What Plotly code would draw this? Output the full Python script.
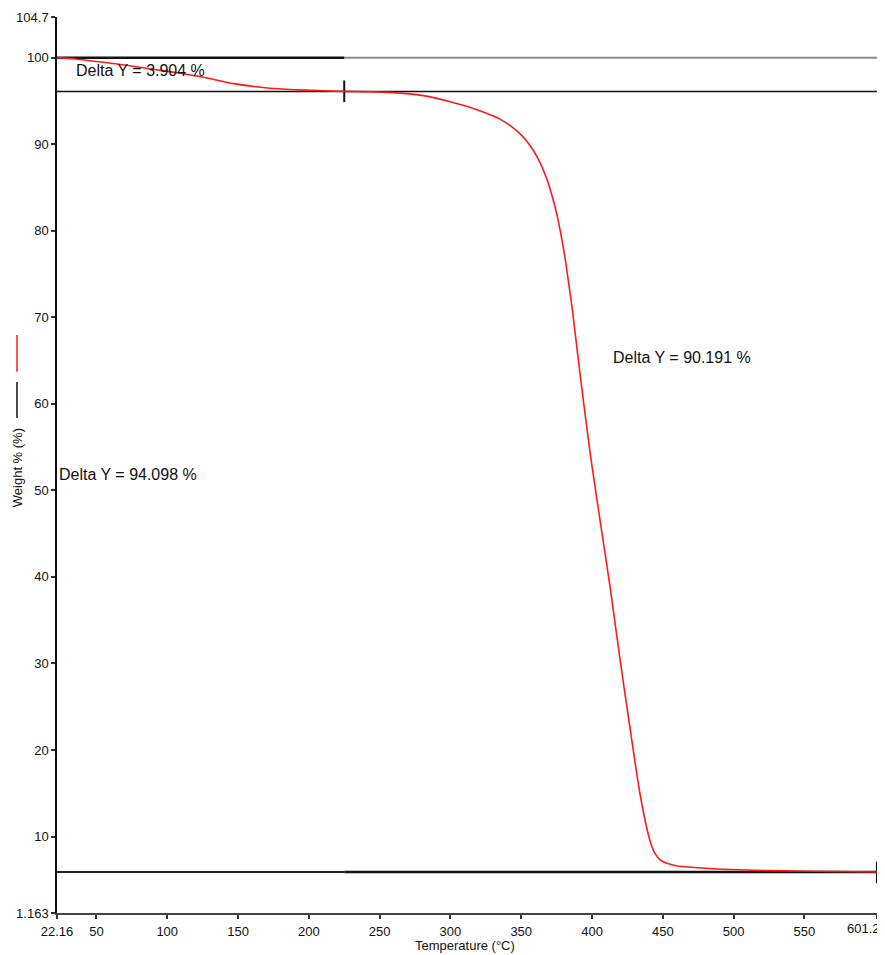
import plotly.graph_objects as go

# ---- data ----
temperature = [22.16, 35, 53.5, 70, 88.7, 105, 123.9, 147, 171, 190, 206, 225, 245, 265, 285,
               300, 312, 325, 335, 345, 351, 356, 362, 368, 372, 375, 378, 381, 386, 391.5, 398.6, 405.6,
               412.7, 420, 426.7, 433.8, 440.8, 444, 448, 453, 460, 475, 492, 525, 560, 601.2]
weight = [100, 99.85, 99.5, 99.15, 98.7, 98.3, 97.8, 97.0, 96.5, 96.3, 96.2, 96.1, 96.05, 95.9, 95.5,
          94.9, 94.35, 93.6, 92.9, 91.8, 90.9, 89.9, 88.3, 86.0, 83.9, 82.0, 79.6, 76.8, 71.0, 63.5, 54.4, 46.6,
          38.9, 30.2, 22.7, 15.0, 9.6, 8.2, 7.3, 6.9, 6.6, 6.4, 6.22, 6.06, 5.98, 5.902]

t_start, t_step, t_end = 22.16, 225, 601.2
w_start = 100.0
delta_1 = 3.904
delta_2 = 90.191
delta_total = 94.098
w_step = w_start - delta_1
w_end = w_start - delta_total

x_tickvals = [22.16, 50, 100, 150, 200, 250, 300, 350, 400, 450, 500, 550, 601.2]
x_ticktext = ["22.16", "50", "100", "150", "200", "250", "300", "350", "400", "450", "500", "550", ""]
x_end_label = "601.2"
y_tickvals = [1.163, 10, 20, 30, 40, 50, 60, 70, 80, 90, 100, 104.7]
y_ticktext = ["1.163", "10", "20", "30", "40", "50", "60", "70", "80", "90", "100", "104.7"]

FONT = "Liberation Sans, Arial, sans-serif"
TXT = "#111111"

fig = go.Figure()

def seg(xs, ys, color, width):
    fig.add_trace(go.Scatter(x=xs, y=ys, mode="lines", line=dict(color=color, width=width),
                             hoverinfo="skip", showlegend=False, cliponaxis=False))

# reference lines
seg([t_step, t_end], [w_start, w_start], "#8a8a8a", 2)
seg([t_start, t_step], [w_start, w_start], "#111111", 2.5)
seg([t_start, t_end], [w_step, w_step], "#111111", 1.5)
seg([t_start, t_step], [w_end, w_end], "#222222", 1.8)
seg([t_step, t_end], [w_end, w_end], "#111111", 2.5)
# step markers
seg([t_step, t_step], [w_step + 1.27, w_step - 1.23], "#111111", 2)
seg([t_end, t_end], [w_end + 1.2, w_end - 1.3], "#111111", 2)

# TGA curve
fig.add_trace(go.Scatter(x=temperature, y=weight, mode="lines",
                         line=dict(color="#ff1a1a", width=1.6, shape="spline", smoothing=0.6),
                         showlegend=False))

annos = [
    dict(x=34.5, y=98.5, xref="x", yref="y", text="Delta Y = %.3f %%" % delta_1,
         xanchor="left", yanchor="middle", showarrow=False, font=dict(size=16, color=TXT, family=FONT)),
    dict(x=413.5, y=65.4, xref="x", yref="y", text="Delta Y = %.3f %%" % delta_2,
         xanchor="left", yanchor="middle", showarrow=False, font=dict(size=16, color=TXT, family=FONT)),
    dict(x=22.16, y=51.85, xref="x", yref="y", text="Delta Y = %.3f %%" % delta_total,
         xanchor="left", yanchor="middle", showarrow=False, font=dict(size=16, color=TXT, family=FONT)),
    dict(x=-0.0488, y=0.4975, xref="paper", yref="paper", text="Weight % (%)", textangle=-90,
         xanchor="center", yanchor="middle", showarrow=False, font=dict(size=13, color=TXT, family=FONT)),
    dict(x=0.4975, y=-0.0368, xref="paper", yref="paper", text="Temperature (°C)",
         xanchor="center", yanchor="middle", showarrow=False, font=dict(size=13, color=TXT, family=FONT)),
    dict(x=t_end, y=0, xref="x", yref="paper", text=x_end_label, xanchor="right", yanchor="top",
         xshift=5, yshift=-6, showarrow=False, font=dict(size=13, color=TXT, family=FONT)),
]

shapes = [
    dict(type="line", xref="paper", yref="paper", x0=-0.0488, x1=-0.0488, y0=0.604, y1=0.645,
         line=dict(color="#ff1a1a", width=1.5)),
    dict(type="line", xref="paper", yref="paper", x0=-0.0488, x1=-0.0488, y0=0.5525, y1=0.5926,
         line=dict(color="#111111", width=1.5)),
]

fig.update_layout(
    width=877, height=947,
    margin=dict(l=49, r=8, t=9, b=42, autoexpand=False),
    paper_bgcolor="white", plot_bgcolor="white",
    font=dict(family=FONT, size=13, color=TXT),
    annotations=annos, shapes=shapes,
    xaxis=dict(range=[t_start, t_end + 0.05], tickvals=x_tickvals, ticktext=x_ticktext,
               automargin=False, ticklabeloverflow="allow",
               showgrid=False, zeroline=False, showline=True, linecolor="#444444", linewidth=1.5,
               ticks="outside", ticklen=4, tickcolor="#333333", tickwidth=1.5,
               tickfont=dict(size=13, color=TXT), ticklabelstandoff=2),
    yaxis=dict(range=[1.163, 104.7], tickvals=y_tickvals, ticktext=y_ticktext,
               automargin=False, ticklabeloverflow="allow",
               showgrid=False, zeroline=False, showline=True, linecolor="#111111", linewidth=1.5,
               ticks="outside", ticklen=4, tickcolor="#333333", tickwidth=1.5,
               tickfont=dict(size=13, color=TXT)),
)

fig.write_html("out.html")
